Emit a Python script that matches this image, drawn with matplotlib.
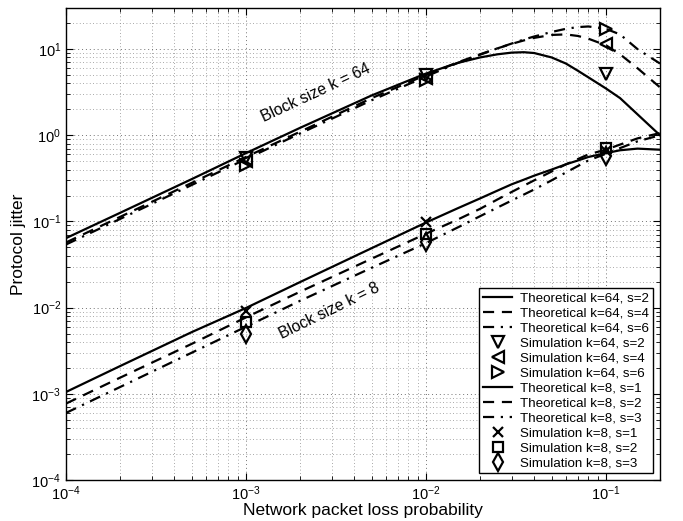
import matplotlib
matplotlib.use("Agg")
import matplotlib.pyplot as plt
from matplotlib.ticker import LogLocator, NullFormatter

plt.rcParams['font.family'] = ['Liberation Sans', 'DejaVu Sans']
plt.rcParams['mathtext.fontset'] = 'custom'
plt.rcParams['mathtext.rm'] = 'Liberation Sans'
plt.rcParams['mathtext.it'] = 'Liberation Sans:italic'

# ---- data ----
x_theory = [1e-4, 2e-4, 5e-4, 1e-3, 2e-3, 5e-3, 1e-2, 1.5e-2, 2e-2, 2.5e-2, 3e-2, 3.5e-2,
            4e-2, 5e-2, 6e-2, 7e-2, 8e-2, 0.1, 0.12, 0.15, 0.2]

k64_s2 = [0.064, 0.126, 0.31, 0.62, 1.22, 2.9, 5.2, 6.9, 8.0, 8.7, 9.1, 9.2,
          9.0, 8.0, 6.8, 5.6, 4.7, 3.5, 2.7, 1.75, 1.0]
k64_s4 = [0.057, 0.113, 0.28, 0.56, 1.1, 2.7, 5.0, 7.0, 8.7, 10.2, 11.5, 12.6,
          13.5, 14.6, 14.8, 14.2, 13.2, 11.1, 8.7, 6.0, 3.6]
k64_s6 = [0.054, 0.107, 0.265, 0.53, 1.05, 2.55, 4.8, 6.9, 8.6, 10.2, 11.6, 12.9,
          14.0, 15.8, 17.2, 18.0, 18.3, 17.2, 14.8, 10.0, 6.8]

k8_s1 = [0.00105, 0.0021, 0.0052, 0.0099, 0.0198, 0.049, 0.097, 0.142, 0.185, 0.228, 0.27, 0.305,
         0.34, 0.40, 0.46, 0.51, 0.56, 0.62, 0.67, 0.70, 0.68]
k8_s2 = [0.00077, 0.00154, 0.0038, 0.0077, 0.0153, 0.037, 0.072, 0.105, 0.14, 0.18, 0.22, 0.26,
         0.30, 0.38, 0.46, 0.53, 0.60, 0.68, 0.78, 0.92, 1.06]
k8_s3 = [0.0006, 0.0012, 0.003, 0.006, 0.012, 0.029, 0.056, 0.085, 0.115, 0.145, 0.175, 0.205,
         0.235, 0.30, 0.37, 0.44, 0.51, 0.61, 0.71, 0.85, 1.0]

x_sim = [1e-3, 1e-2, 1e-1]
sim_k64_s2 = [0.55, 5.0, 5.2]
sim_k64_s4 = [0.50, 4.6, 11.6]
sim_k64_s6 = [0.45, 4.4, 17.0]
sim_k8_s1 = [0.0092, 0.098, 0.65]
sim_k8_s2 = [0.0069, 0.072, 0.72]
sim_k8_s3 = [0.0050, 0.057, 0.57]

labels = ["Theoretical k=64, s=2", "Theoretical k=64, s=4", "Theoretical k=64, s=6",
          "Simulation k=64, s=2", "Simulation k=64, s=4", "Simulation k=64, s=6",
          "Theoretical k=8, s=1", "Theoretical k=8, s=2", "Theoretical k=8, s=3",
          "Simulation k=8, s=1", "Simulation k=8, s=2", "Simulation k=8, s=3"]

# ---- figure ----
fig = plt.figure(figsize=(6.83, 5.21), dpi=100)
ax = fig.add_axes([0.0966, 0.0787, 0.8697, 0.906])

lw = 1.6
dash = (0, (5, 3.5))
dashdot = (0, (5, 3, 1, 3))
ms = 8
mew = 1.6

h = []
h += ax.plot(x_theory, k64_s2, color='k', lw=lw, ls='-')
h += ax.plot(x_theory, k64_s4, color='k', lw=lw, ls=dash)
h += ax.plot(x_theory, k64_s6, color='k', lw=lw, ls=dashdot)
h += ax.plot(x_sim, sim_k64_s2, ls='none', marker='v', ms=ms, mfc='none', mec='k', mew=mew)
h += ax.plot(x_sim, sim_k64_s4, ls='none', marker='<', ms=ms, mfc='none', mec='k', mew=mew)
h += ax.plot(x_sim, sim_k64_s6, ls='none', marker='>', ms=ms, mfc='none', mec='k', mew=mew)
h += ax.plot(x_theory, k8_s1, color='k', lw=lw, ls='-')
h += ax.plot(x_theory, k8_s2, color='k', lw=lw, ls=dash)
h += ax.plot(x_theory, k8_s3, color='k', lw=lw, ls=dashdot)
h += ax.plot(x_sim, sim_k8_s1, ls='none', marker='x', ms=7, mfc='none', mec='k', mew=mew)
h += ax.plot(x_sim, sim_k8_s2, ls='none', marker='s', ms=6.5, mfc='none', mec='k', mew=mew)
h += ax.plot(x_sim, sim_k8_s3, ls='none', marker='d', ms=9, mfc='none', mec='k', mew=mew)

ax.set_xscale('log')
ax.set_yscale('log')
ax.set_xlim(1e-4, 0.2)
ax.set_ylim(1e-4, 30)

ax.xaxis.set_major_locator(LogLocator(base=10, numticks=10))
ax.yaxis.set_major_locator(LogLocator(base=10, numticks=10))
ax.xaxis.set_minor_locator(LogLocator(base=10, subs=range(2, 10), numticks=20))
ax.yaxis.set_minor_locator(LogLocator(base=10, subs=range(2, 10), numticks=20))
ax.xaxis.set_minor_formatter(NullFormatter())
ax.yaxis.set_minor_formatter(NullFormatter())

ax.tick_params(which='both', direction='in', top=True, right=True, labelsize=10.5)
ax.tick_params(which='major', length=5, width=0.8)
ax.tick_params(which='minor', length=3, width=0.6)
ax.tick_params(axis='x', pad=3)

ax.grid(True, which='major', ls=(0, (1, 3)), color='0.45', lw=0.7)
ax.grid(True, which='minor', ls=(0, (1, 3)), color='0.55', lw=0.6)
for s in ax.spines.values():
    s.set_linewidth(1.0)

ax.set_xlabel("Network packet loss probability", fontsize=12.5, labelpad=0.5)
ax.set_ylabel("Protocol jitter", fontsize=12.5, labelpad=4)

ax.text(0.00245, 3.08, "Block size k = 64", rotation=25, fontsize=11.3,
        ha='center', va='center', rotation_mode='anchor')
ax.text(0.00289, 0.0092, "Block size k = 8", rotation=26, fontsize=11.3,
        ha='center', va='center', rotation_mode='anchor')

leg = ax.legend(h, labels, loc='lower right', fontsize=9.6, frameon=True, fancybox=False,
                edgecolor='k', framealpha=1, handlelength=2.2, handletextpad=0.6,
                labelspacing=0.2, borderpad=0.3, borderaxespad=0.5)
leg.get_frame().set_linewidth(1.0)

fig.savefig("out.png", dpi=100)
